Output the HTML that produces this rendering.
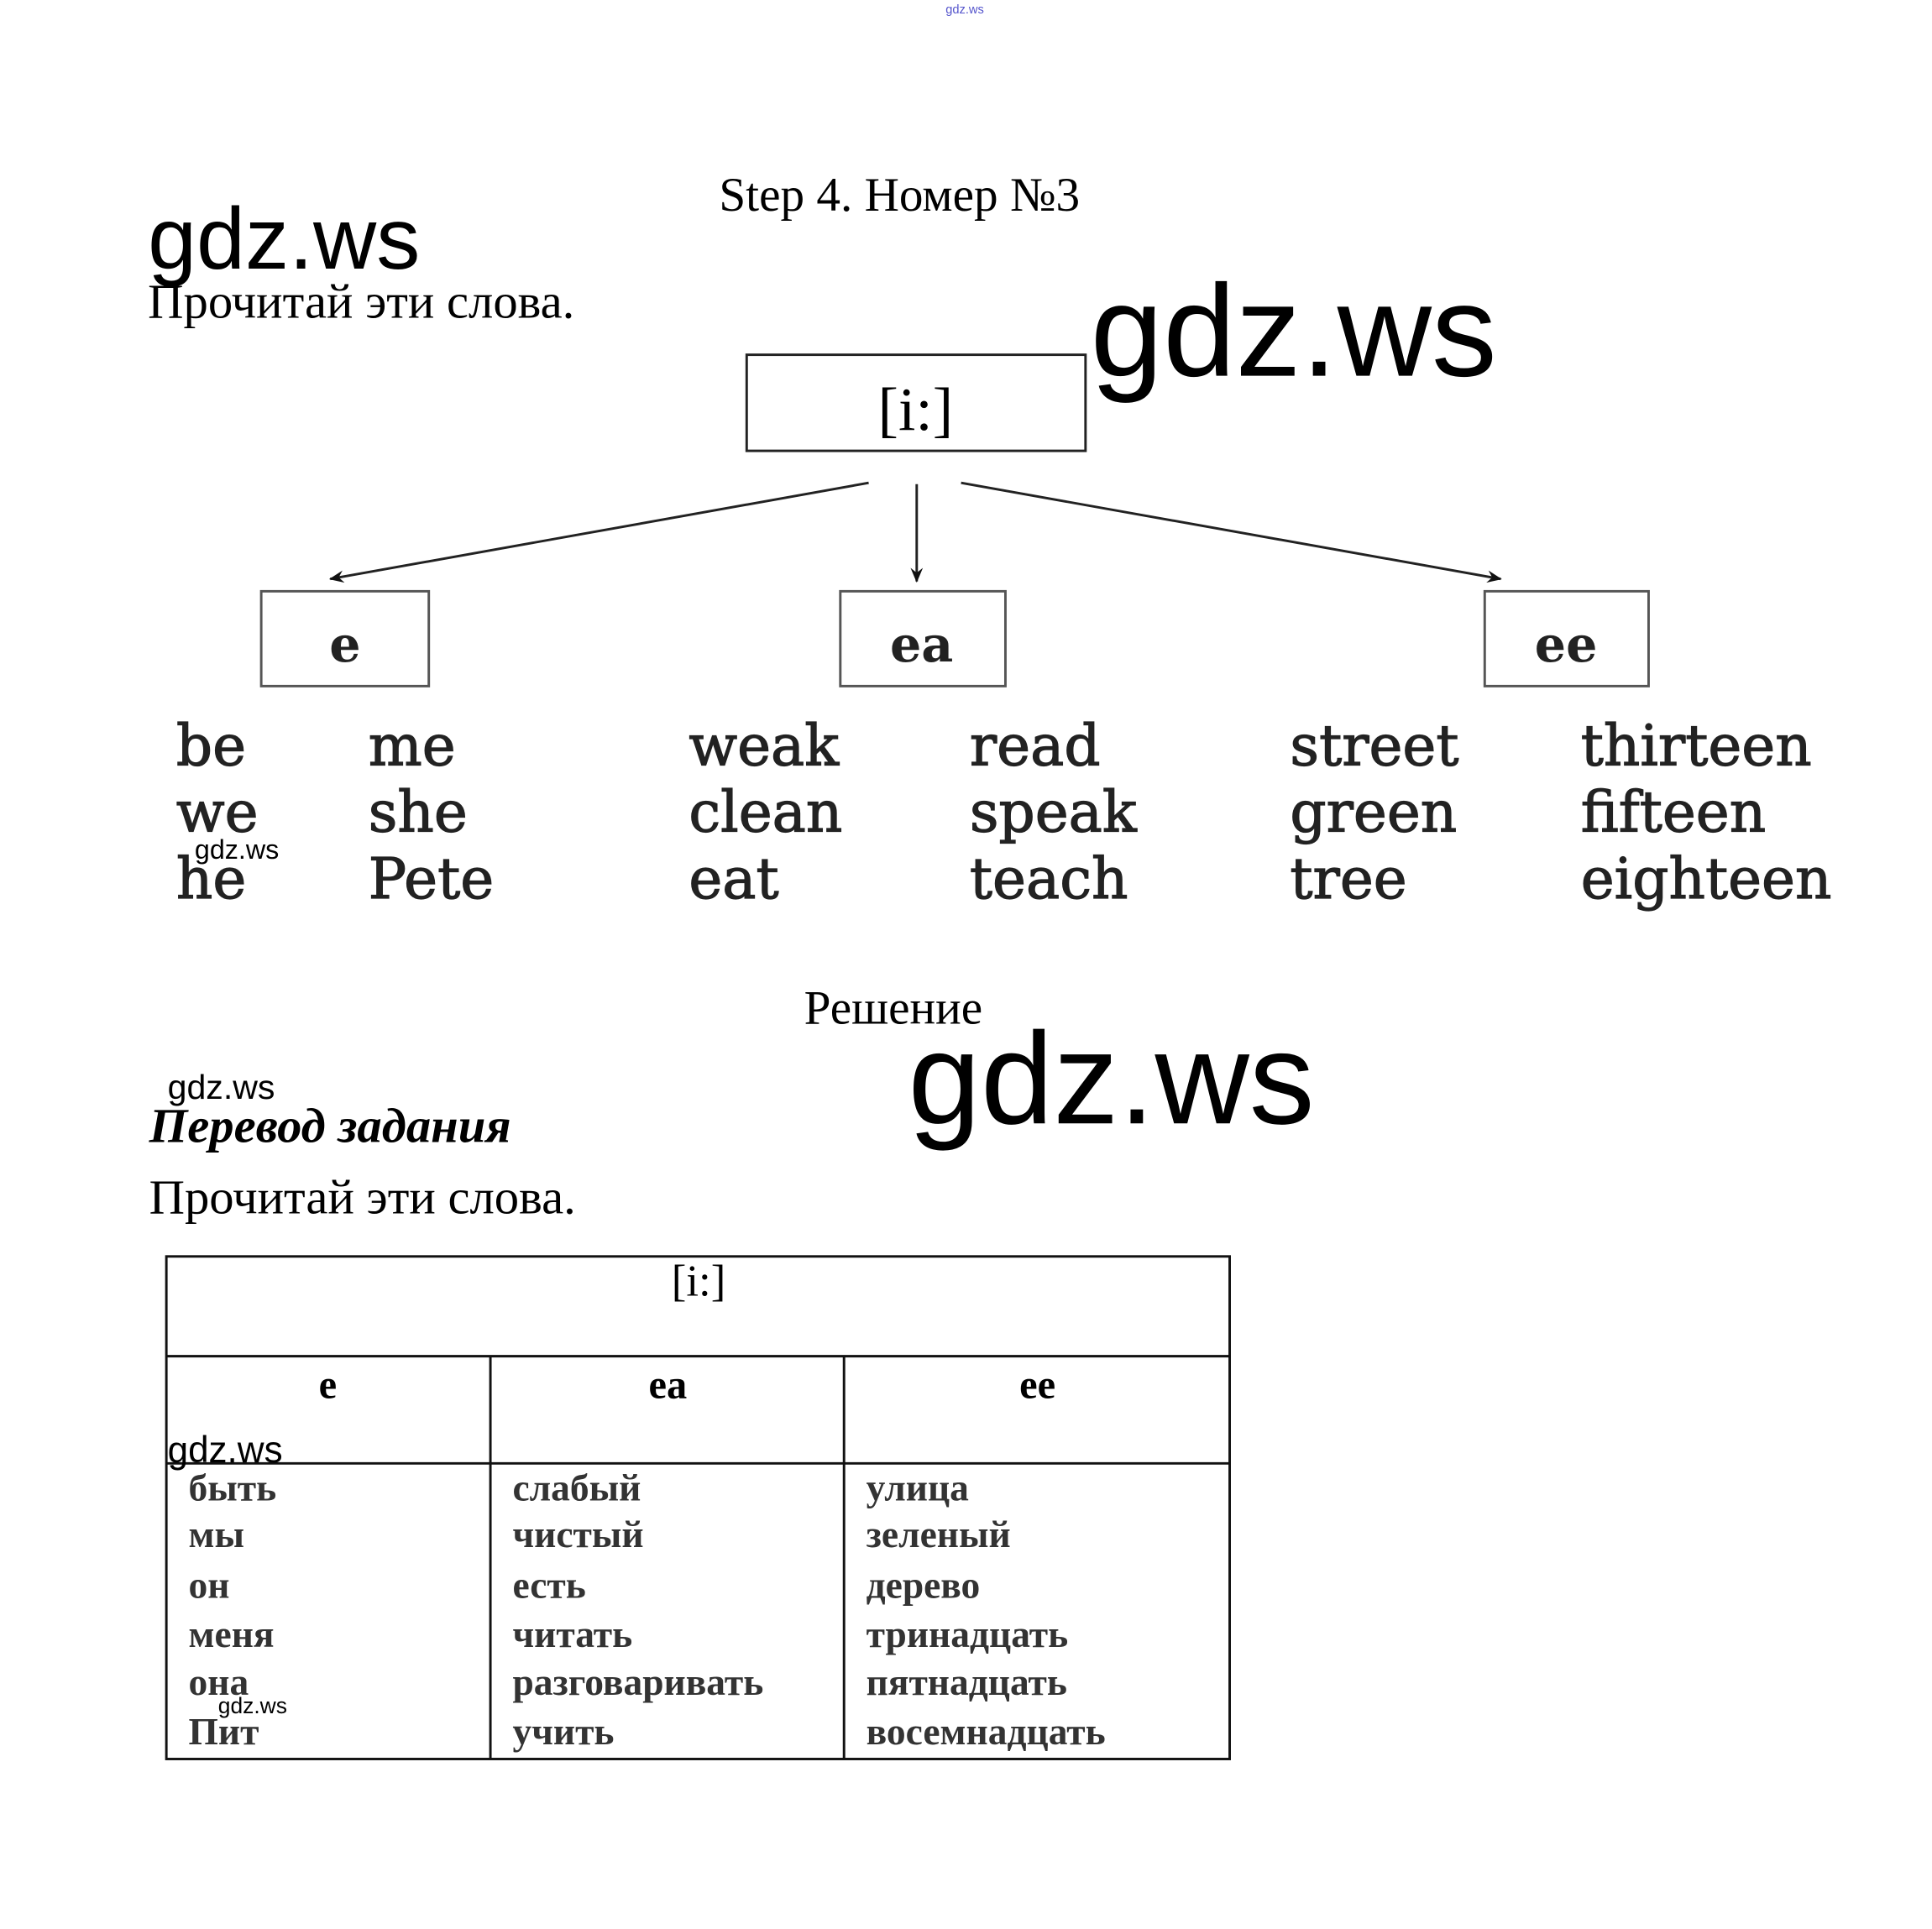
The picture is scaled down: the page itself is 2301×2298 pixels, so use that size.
<!DOCTYPE html>
<html><head><meta charset="utf-8"><style>
html,body{margin:0;padding:0;background:#fff;}
svg{display:block;}
.serif{font-family:"Liberation Serif","DejaVu Serif",serif;}
.sans{font-family:"Liberation Sans","DejaVu Sans",sans-serif;}
.cs{font-family:"DejaVu Serif","Liberation Serif",serif;}
</style></head><body>
<svg width="2301" height="2298" viewBox="0 0 1568 1566" xmlns="http://www.w3.org/2000/svg">
<defs><marker id="ah" markerWidth="12" markerHeight="10" refX="11" refY="5" orient="auto" markerUnits="userSpaceOnUse"><path d="M0,0 L12,5 L0,10 L4,5 Z" fill="#111"/></marker></defs>
<text x="783" y="11" class="sans" font-size="10" fill="#55c" text-anchor="middle">gdz.ws</text>
<text x="730" y="171" class="serif" font-size="39" text-anchor="middle">Step 4. Номер №3</text>
<text x="120" y="218" class="sans" font-size="71">gdz.ws</text>
<text x="120" y="258" class="serif" font-size="40">Прочитай эти слова.</text>
<text x="885" y="305" class="sans" font-size="106">gdz.ws</text>
<rect x="606" y="288" width="275" height="78" fill="none" stroke="#222" stroke-width="2"/>
<text x="743" y="349" class="serif" font-size="50" text-anchor="middle">[i:]</text>
<g stroke="#222" stroke-width="2" fill="none">
<line x1="705" y1="392" x2="268" y2="470" marker-end="url(#ah)"/>
<line x1="744" y1="393" x2="744" y2="472" marker-end="url(#ah)"/>
<line x1="780" y1="392" x2="1218" y2="470" marker-end="url(#ah)"/>
<rect x="212" y="480" width="136" height="77" stroke="#555"/>
<rect x="682" y="480" width="134" height="77" stroke="#555"/>
<rect x="1205" y="480" width="133" height="77" stroke="#555"/>
</g>
<g class="cs" font-size="40" font-weight="bold" text-anchor="middle" fill="#222">
<text x="280" y="537">e</text><text x="748" y="537">ea</text><text x="1271" y="537">ee</text>
</g>
<g class="cs" font-size="46" fill="#222" stroke="#222" stroke-width="0.8">
<text x="143" y="621">be</text><text x="299" y="621">me</text><text x="559" y="621">weak</text><text x="787" y="621">read</text><text x="1047" y="621">street</text><text x="1283" y="621">thirteen</text>
<text x="143" y="675">we</text><text x="299" y="675">she</text><text x="559" y="675">clean</text><text x="787" y="675">speak</text><text x="1047" y="675">green</text><text x="1283" y="675">fifteen</text>
<text x="143" y="729">he</text><text x="299" y="729">Pete</text><text x="559" y="729">eat</text><text x="787" y="729">teach</text><text x="1047" y="729">tree</text><text x="1283" y="729">eighteen</text>
</g>
<text x="158" y="697" class="sans" font-size="22">gdz.ws</text>
<text x="725" y="831" class="serif" font-size="39" text-anchor="middle">Решение</text>
<text x="737" y="912" class="sans" font-size="106">gdz.ws</text>
<text x="136" y="892" class="sans" font-size="28">gdz.ws</text>
<text x="121" y="927" class="serif" font-size="40" font-weight="bold" font-style="italic">Перевод задания</text>
<text x="121" y="985" class="serif" font-size="40">Прочитай эти слова.</text>
<g stroke="#111" stroke-width="2" fill="none">
<rect x="135" y="1020" width="863" height="408"/>
<line x1="135" y1="1101" x2="998" y2="1101"/>
<line x1="135" y1="1188" x2="998" y2="1188"/>
<line x1="398" y1="1101" x2="398" y2="1428"/>
<line x1="685" y1="1101" x2="685" y2="1428"/>
</g>
<text x="567" y="1052" class="serif" font-size="36" text-anchor="middle">[i:]</text>
<g class="serif" font-size="33" font-weight="bold" text-anchor="middle">
<text x="266" y="1135">e</text><text x="542" y="1135">ea</text><text x="842" y="1135">ee</text>
</g>
<text x="136" y="1187" class="sans" font-size="30">gdz.ws</text>
<g class="serif" font-size="31" font-weight="bold" fill="#333">
<text x="153" y="1218">быть</text><text x="416" y="1218">слабый</text><text x="703" y="1218">улица</text>
<text x="153" y="1256">мы</text><text x="416" y="1256">чистый</text><text x="703" y="1256">зеленый</text>
<text x="153" y="1297">он</text><text x="416" y="1297">есть</text><text x="703" y="1297">дерево</text>
<text x="153" y="1337">меня</text><text x="416" y="1337">читать</text><text x="703" y="1337">тринадцать</text>
<text x="153" y="1376">она</text><text x="416" y="1376">разговаривать</text><text x="703" y="1376">пятнадцать</text>
<text x="153" y="1416">Пит</text><text x="416" y="1416">учить</text><text x="703" y="1416">восемнадцать</text>
</g>
<text x="177" y="1391" class="sans" font-size="18">gdz.ws</text>
</svg>
</body></html>
